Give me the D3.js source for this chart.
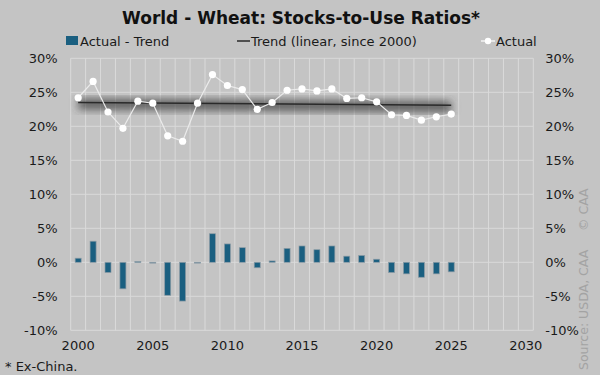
<!DOCTYPE html>
<html>
<head>
<meta charset="utf-8">
<script src="https://cdn.jsdelivr.net/npm/d3@7"></script>
<style>
html,body{margin:0;padding:0;background:#c4c4c4;}
svg{display:block;font-family:"DejaVu Sans",sans-serif;}
</style>
</head>
<body>
<svg id="chart" width="600" height="375"></svg>
<script>
// ---- data ----
const categories = d3.range(2000, 2031);
const years = [2000,2001,2002,2003,2004,2005,2006,2007,2008,2009,2010,2011,2012,2013,2014,2015,2016,2017,2018,2019,2020,2021,2022,2023,2024,2025];
const actual = [24.2,26.6,22.1,19.7,23.7,23.4,18.6,17.8,23.4,27.6,26.0,25.4,22.5,23.5,25.3,25.5,25.2,25.5,24.1,24.2,23.6,21.7,21.6,20.9,21.4,21.8];
const diff = [0.6,3.1,-1.5,-3.9,0.1,-0.1,-4.85,-5.7,-0.1,4.2,2.7,2.15,-0.8,0.2,2.05,2.4,1.85,2.4,0.9,1.0,0.45,-1.5,-1.7,-2.2,-1.7,-1.4];
const trendYears = [2000, 2025];
const trendValues = [23.5, 23.1];
const yTicks = [-10,-5,0,5,10,15,20,25,30];
const xTickLabels = [2000,2005,2010,2015,2020,2025,2030];

const svg = d3.select("#chart");
const L = 70.7, R = 533.3, T = 58.3, B = 330.3;
const textColor = "#1a1a1a";
const FONT = '"DejaVu Sans",sans-serif';

const x = d3.scaleBand().domain(categories).range([L, R]).padding(0);
const cx = d => x(d) + x.bandwidth()/2;
const y = d3.scaleLinear().domain([-10, 30]).range([B, T]);

svg.append("rect").attr("width",600).attr("height",375).attr("fill","#c4c4c4");

// gridlines
const grid = svg.append("g");
grid.selectAll("line.h").data(yTicks).join("line")
  .attr("x1", L).attr("x2", R).attr("y1", d=>y(d)).attr("y2", d=>y(d))
  .attr("stroke","#dadada").attr("stroke-width",1);
const bounds = categories.map(c => x(c)).concat([R]);
grid.selectAll("line.v").data(bounds).join("line")
  .attr("x1", d=>d).attr("x2", d=>d).attr("y1", T).attr("y2", B)
  .attr("stroke","#dadada").attr("stroke-width",1);

// bars
svg.append("g").selectAll("rect").data(years).join("rect")
  .attr("x", (d,i) => cx(d) - 3)
  .attr("width", 6)
  .attr("y", (d,i) => y(Math.max(0, diff[i])))
  .attr("height", (d,i) => Math.max(0.8, Math.abs(y(diff[i]) - y(0))))
  .attr("fill", "#1a5f80")
  .attr("stroke", "#8a9aa4").attr("stroke-width", 0.7);

// trend shadow filter
const defs = svg.append("defs");
const f = defs.append("filter").attr("id","blur").attr("x","-20%").attr("y","-300%").attr("width","140%").attr("height","700%");
f.append("feGaussianBlur").attr("stdDeviation", 4);

const tline = d3.line().x(d=>cx(d[0])).y(d=>y(d[1]));
const tdata = trendYears.map((yr,i)=>[yr, trendValues[i]]);
svg.append("path").datum(tdata).attr("d", tline)
  .attr("stroke","#3a3a3a").attr("stroke-width",11).attr("stroke-opacity",0.75)
  .attr("fill","none").attr("filter","url(#blur)")
  .attr("transform","translate(0,1.5)");
svg.append("path").datum(tdata).attr("d", tline)
  .attr("stroke","#2a2a2a").attr("stroke-width",1.5).attr("fill","none");

// actual line
const adata = years.map((yr,i)=>[yr, actual[i]]);
svg.append("path").datum(adata).attr("d", d3.line().x(d=>cx(d[0])).y(d=>y(d[1])))
  .attr("stroke","#ebebeb").attr("stroke-width",1.2).attr("fill","none");
svg.append("g").selectAll("circle").data(adata).join("circle")
  .attr("cx", d=>cx(d[0])).attr("cy", d=>y(d[1])).attr("r", 3.6)
  .attr("fill","#ffffff");

// axes
const fmt = d => d + "%";
const yl = svg.append("g").attr("transform",`translate(${L},0)`)
  .call(d3.axisLeft(y).tickValues(yTicks).tickFormat(fmt).tickSize(0).tickPadding(13));
const yr = svg.append("g").attr("transform",`translate(${R},0)`)
  .call(d3.axisRight(y).tickValues(yTicks).tickFormat(fmt).tickSize(0).tickPadding(12));
const xa = svg.append("g").attr("transform",`translate(0,${B})`)
  .call(d3.axisBottom(x).tickValues(xTickLabels).tickSize(0).tickPadding(10));
[yl, yr, xa].forEach(g => {
  g.select(".domain").remove();
  g.selectAll("text").attr("fill", textColor).attr("font-size", 13)
    .attr("font-family", FONT);
});

// title
svg.append("text").attr("x", 301).attr("y", 24).attr("text-anchor","middle")
  .attr("font-size", 17).attr("font-weight","bold").attr("fill","#111")
  .text("World - Wheat: Stocks-to-Use Ratios*");

// legend
const lg = svg.append("g").attr("font-size", 13).attr("fill", textColor);
lg.append("rect").attr("x",66).attr("y",36).attr("width",12).attr("height",9).attr("fill","#1a5f80");
lg.append("text").attr("x",80).attr("y",46).text("Actual - Trend");
lg.append("line").attr("x1",237).attr("x2",250).attr("y1",41).attr("y2",41).attr("stroke","#2a2a2a").attr("stroke-width",1.5);
lg.append("text").attr("x",251).attr("y",46).text("Trend (linear, since 2000)");
lg.append("line").attr("x1",481).attr("x2",495).attr("y1",41).attr("y2",41).attr("stroke","#ffffff").attr("stroke-width",1.2);
lg.append("circle").attr("cx",488).attr("cy",41).attr("r",3.2).attr("fill","#ffffff");
lg.append("text").attr("x",496).attr("y",46).text("Actual");

// footnote
svg.append("text").attr("x",5).attr("y",371).attr("font-size",13).attr("fill",textColor).text("* Ex-China.");

// source
svg.append("text").attr("transform","translate(588,370) rotate(-90)")
  .attr("font-size",12.5).attr("fill","#a3a3a3").text("Source: USDA, CAA");
svg.append("text").attr("transform","translate(588,231) rotate(-90)")
  .attr("font-size",12.5).attr("fill","#a3a3a3").text("© CAA");
</script>
</body>
</html>
